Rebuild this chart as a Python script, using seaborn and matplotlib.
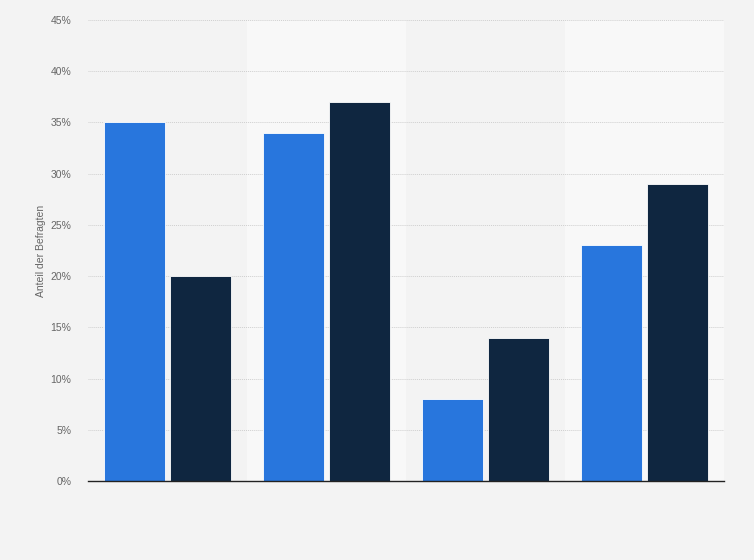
import pandas as pd
import seaborn as sns
import matplotlib.pyplot as plt
from matplotlib.ticker import MultipleLocator, FuncFormatter

# Data
groups = ['Gruppe 1', 'Gruppe 2', 'Gruppe 3', 'Gruppe 4']
series = ['Serie 1', 'Serie 2']
values_1 = [35, 34, 8, 23]
values_2 = [20, 37, 14, 29]

df = pd.DataFrame({
    'gruppe': groups * 2,
    'serie': [series[0]] * len(groups) + [series[1]] * len(groups),
    'anteil': values_1 + values_2,
})

sns.set_theme(style='white')
plt.rcParams['font.family'] = ['Liberation Sans', 'DejaVu Sans']

bg = '#f3f3f3'
fig = plt.figure(figsize=(7.54, 5.6), dpi=100, facecolor=bg)
ax = fig.add_axes([88 / 754, 1 - 481 / 560, 636 / 754, 461 / 560])
ax.set_facecolor(bg)

# Alternating background bands
for i in range(len(groups)):
    if i % 2 == 1:
        ax.axvspan(i - 0.5, i + 0.5, color='#f8f8f8', zorder=0, lw=0)

sns.barplot(data=df, x='gruppe', y='anteil', hue='serie',
            palette=['#2876dd', '#0f2640'], saturation=1, width=0.83, gap=0.09,
            edgecolor='#ffffff', linewidth=0.6, legend=False, ax=ax, zorder=3)

ax.set_xlim(-0.5, len(groups) - 0.5)
ax.set_ylim(0, 45)
ax.yaxis.set_major_locator(MultipleLocator(5))
ax.yaxis.set_major_formatter(FuncFormatter(lambda v, p: f'{v:.0f}%'))
ax.grid(axis='y', color='#cfcfcf', linestyle=(0, (1, 1)), linewidth=0.7, zorder=1)
ax.set_axisbelow(True)

for side in ['top', 'right', 'left']:
    ax.spines[side].set_visible(False)
ax.spines['bottom'].set_color('#222222')
ax.spines['bottom'].set_linewidth(1.0)
ax.spines['bottom'].set_zorder(4)

ax.set_xticks([])
ax.set_xlabel('')
ax.tick_params(axis='y', length=0, pad=12, labelsize=7.5, labelcolor='#666666')
ax.set_ylabel('Anteil der Befragten', fontsize=7.5, color='#666666', labelpad=3)

fig.savefig('out.png', dpi=100, facecolor=bg)
